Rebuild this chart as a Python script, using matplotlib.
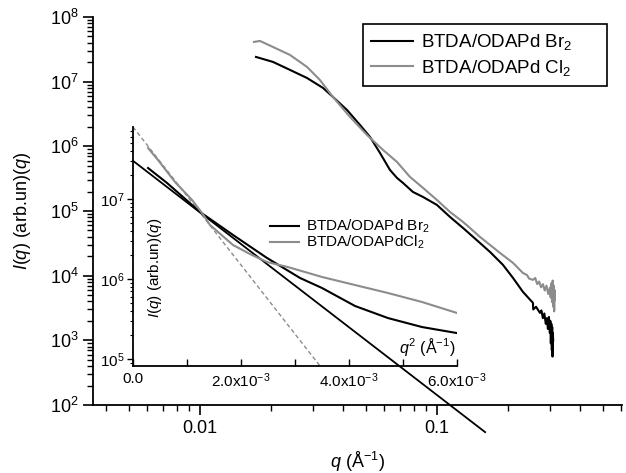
import numpy as np
import matplotlib
matplotlib.use('Agg')
import matplotlib.pyplot as plt
from matplotlib.ticker import LogLocator, FixedLocator, NullFormatter

plt.rcParams['font.family'] = ['Liberation Sans', 'DejaVu Sans']
plt.rcParams['mathtext.fontset'] = 'custom'
plt.rcParams['mathtext.rm'] = 'Liberation Sans'
plt.rcParams['mathtext.it'] = 'Liberation Sans:italic'

# main curves: q (1/A) vs I(q)
q_br = [0.01723, 0.02032, 0.02397, 0.02828, 0.03304, 0.03640, 0.04172, 0.04733,
        0.05216, 0.05748, 0.06333, 0.06780, 0.07186, 0.07918, 0.08727, 0.1,
        0.1135, 0.1287, 0.1518, 0.1674, 0.1899, 0.2093, 0.2306, 0.2450, 0.2542,
        0.2550, 0.2620, 0.2720, 0.2760, 0.2800, 0.2840, 0.2880, 0.2911, 0.2940,
        0.2970, 0.2997, 0.3010, 0.3025, 0.3040, 0.3055, 0.3065, 0.3075, 0.3085,
        0.3095]
i_br = [2.41e7, 2.02e7, 1.52e7, 1.14e7, 8.0e6, 5.8e6, 3.65e6, 2.14e6,
        1.40e6, 7.91e5, 4.32e5, 3.25e5, 2.72e5, 1.97e5, 1.65e5, 1.24e5,
        8.1e4, 5.48e4, 3.21e4, 2.33e4, 1.47e4, 9.25e3, 5.62e3, 4.4e3, 3.8e3,
        3.0e3, 3.3e3, 2.66e3, 2.9e3, 2.2e3, 2.6e3, 1.8e3, 2.2e3, 1.5e3,
        2.3e3, 1.3e3, 2.0e3, 9.0e2, 1.8e3, 7.0e2, 1.6e3, 5.6e2, 1.3e3,
        1.0e3]

q_cl = [0.01690, 0.01791, 0.02032, 0.02397, 0.02828, 0.03208, 0.03640, 0.04295,
        0.05066, 0.05919, 0.06780, 0.07691, 0.08727, 0.1, 0.1135, 0.1287,
        0.1377, 0.1518, 0.1674, 0.1844, 0.2093, 0.2306, 0.2400, 0.2450, 0.2542,
        0.2600, 0.2650, 0.2700, 0.2750, 0.2801, 0.2850, 0.2900, 0.2950, 0.2997,
        0.3020, 0.3040, 0.3060, 0.3080, 0.3095, 0.3110, 0.3125, 0.3140, 0.3148]
i_cl = [4.11e7, 4.26e7, 3.44e7, 2.59e7, 1.69e7, 1.06e7, 5.8e6, 2.85e6,
        1.50e6, 8.8e5, 5.74e5, 3.37e5, 2.28e5, 1.48e5, 9.68e4, 6.79e4,
        5.48e4, 3.98e4, 2.99e4, 2.25e4, 1.58e4, 1.10e4, 1.02e4, 9.0e3, 8.61e3,
        9.2e3, 7.4e3, 8.1e3, 6.6e3, 7.4e3, 5.9e3, 7.0e3, 5.2e3, 6.5e3,
        4.6e3, 7.6e3, 3.9e3, 8.4e3, 3.3e3, 7.0e3, 2.8e3, 6.0e3, 4.2e3]

# inset: q^2 vs I(q)
q2_br = [2.78e-4, 6.30e-4, 1.241e-3, 1.852e-3, 2.482e-3, 3.093e-3, 3.500e-3,
         4.111e-3, 4.722e-3, 5.352e-3, 6.0e-3]
in_br = [2.44e7, 1.585e7, 6.88e6, 3.55e6, 1.83e6, 1.03e6, 7.72e5,
         4.60e5, 3.25e5, 2.51e5, 2.11e5]
q2_cl = [2.78e-4, 4.63e-4, 7.78e-4, 1.093e-3, 1.278e-3, 1.426e-3, 1.852e-3,
         2.167e-3, 2.482e-3, 2.870e-3, 3.500e-3, 4.111e-3, 4.722e-3, 5.352e-3, 6.0e-3]
in_cl = [4.34e7, 3.07e7, 1.63e7, 9.72e6, 6.68e6, 4.73e6, 2.66e6,
         2.05e6, 1.63e6, 1.41e6, 1.06e6, 8.41e5, 6.68e5, 5.16e5, 3.76e5]

# Guinier fits (straight lines in log-lin)
fit_br_x = [0.0, 6.52e-3]
fit_br_y = [3.0e7, 1.22e4]
fit_cl_x = [0.0, 3.463e-3]
fit_cl_y = [7.94e7, 8.18e4]

gray = '#8c8c8c'

fig = plt.figure(figsize=(6.26, 4.73), dpi=100)
ax = fig.add_axes([0.1486, 0.1438, 0.845, 0.8203])
ax.plot(q_br, i_br, color='black', lw=1.5, label='BTDA/ODAPd Br$_2$')
ax.plot(q_cl, i_cl, color=gray, lw=1.5, label='BTDA/ODAPd Cl$_2$')
ax.set_xscale('log')
ax.set_yscale('log')
ax.set_xlim(0.003536, 0.604)
ax.set_ylim(1e2, 1e8)
ax.spines['top'].set_visible(False)
ax.spines['right'].set_visible(False)
ax.spines['left'].set_linewidth(1.3)
ax.spines['bottom'].set_linewidth(1.3)
ax.set_xticks([0.01, 0.1])
ax.set_xticklabels(['0.01', '0.1'])
ax.xaxis.set_minor_locator(LogLocator(base=10, subs=np.arange(2, 10)))
ax.xaxis.set_minor_formatter(NullFormatter())
ax.set_yticks([10.0**k for k in range(2, 9)])
ax.set_yticklabels(['$10^{%d}$' % k for k in range(2, 9)])
ax.yaxis.set_minor_locator(LogLocator(base=10, subs=np.arange(2, 10), numticks=20))
ax.yaxis.set_minor_formatter(NullFormatter())
ax.tick_params(axis='both', which='major', direction='out', length=7, width=1.2, labelsize=13)
ax.tick_params(axis='both', which='minor', direction='out', length=4, width=1.0)
ax.set_xlabel('$q$ (Å$^{-1}$)', fontsize=13)
ax.xaxis.set_label_coords(0.5, -0.115)
ax.set_ylabel('$I$($q$) (arb.un)($q$)', fontsize=13)
ax.yaxis.set_label_coords(-0.113, 0.5)
leg = ax.legend(loc='upper left', bbox_to_anchor=(0.5799, 0.8119, 0.3898, 0.1374),
                mode='expand', bbox_transform=fig.transFigure, fontsize=13.5,
                handlelength=2.2, fancybox=False, edgecolor='black', framealpha=1,
                borderpad=0.45, borderaxespad=0, labelspacing=0.3, handletextpad=0.45)
leg.get_frame().set_linewidth(1.2)

# inset
axi = fig.add_axes([0.2125, 0.2262, 0.5176, 0.5053])
axi.patch.set_alpha(0)
axi.plot(fit_cl_x, fit_cl_y, color=gray, lw=1.0, ls=(0, (3, 2)))
axi.plot(fit_br_x, fit_br_y, color='black', lw=1.3, clip_on=False)
axi.plot(q2_br, in_br, color='black', lw=1.5, label='BTDA/ODAPd Br$_2$')
axi.plot(q2_cl, in_cl, color=gray, lw=1.5, label='BTDA/ODAPdCl$_2$')
axi.set_yscale('log')
axi.set_xlim(0, 6e-3)
axi.set_ylim(8.18e4, 7.94e7)
axi.spines['top'].set_visible(False)
axi.spines['right'].set_visible(False)
axi.spines['left'].set_linewidth(1.3)
axi.spines['bottom'].set_linewidth(1.3)
axi.set_xticks([0, 2e-3, 4e-3, 6e-3])
axi.set_xticklabels(['0.0', '2.0x10$^{-3}$', '4.0x10$^{-3}$', '6.0x10$^{-3}$'])
axi.xaxis.set_minor_locator(FixedLocator([1e-3, 3e-3, 5e-3]))
axi.set_yticks([1e5, 1e6, 1e7])
axi.set_yticklabels(['$10^{5}$', '$10^{6}$', '$10^{7}$'])
axi.yaxis.set_minor_locator(LogLocator(base=10, subs=np.arange(2, 10), numticks=20))
axi.yaxis.set_minor_formatter(NullFormatter())
axi.tick_params(axis='x', which='both', direction='in', length=5, width=1.0, labelsize=11, pad=4)
axi.tick_params(axis='y', which='major', direction='out', length=4, width=1.0, labelsize=11, pad=2)
axi.tick_params(axis='y', which='minor', direction='out', length=2.5, width=0.8)
axi.text(0.04, 0.41, '$I$($q$) (arb.un)($q$)', transform=axi.transAxes, rotation=90,
         ha='left', va='center', fontsize=11)
axi.text(0.995, 0.035, '$q^2$ (Å$^{-1}$)', transform=axi.transAxes,
         ha='right', va='bottom', fontsize=11.5)
axi.legend(loc='upper left', bbox_to_anchor=(0.431, 0.539), bbox_transform=fig.transFigure,
           frameon=False, fontsize=11, handlelength=1.9, borderpad=0, borderaxespad=0,
           labelspacing=-0.1, handletextpad=0.5)

fig.savefig('out.png', dpi=100)
